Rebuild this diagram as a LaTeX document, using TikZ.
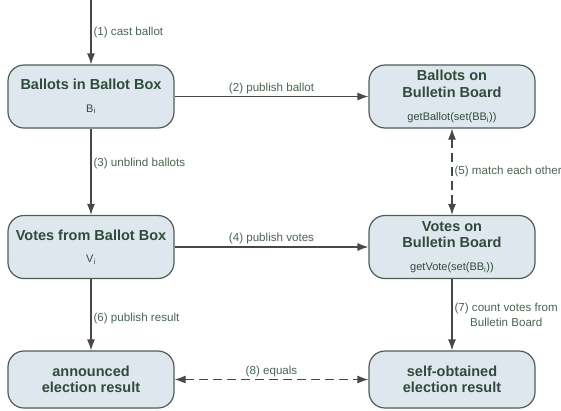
\documentclass[tikz,border=0pt]{standalone}
\usepackage{fontspec}
\setmainfont{Liberation Sans}
\usepackage{tikz}
\usepackage{xcolor}
\usetikzlibrary{positioning, arrows.meta}

\definecolor{boxfill}{HTML}{DFE7EE}
\definecolor{boxline}{HTML}{4F5D55}
\definecolor{titlegreen}{HTML}{2F4B3B}
\definecolor{labelgreen}{HTML}{4A6452}
\definecolor{arrowgray}{HTML}{484848}

\newcommand{\titlefont}{\fontsize{14.5}{16.5}\selectfont\bfseries}
\newcommand{\subfont}{\fontsize{11}{13}\selectfont\mdseries}
\newcommand{\labelfont}{\fontsize{11.6}{15}\selectfont}

\begin{document}
\begin{tikzpicture}[x=1pt, y=-1pt,
    box/.style={draw=boxline, line width=1.2pt, fill=boxfill, rounded corners=16pt,
        minimum width=166pt, minimum height=63pt, align=center, text=titlegreen,
        font=\titlefont, inner sep=0pt},
    lowbox/.style={box, minimum height=57pt},
    flow/.style={draw=arrowgray, line width=1.2pt, -{Latex[length=11pt, width=8pt]}},
    match/.style={flow, {Latex[length=11pt, width=8pt]}-{Latex[length=11pt, width=8pt]}, dash pattern=on 9pt off 5pt},
    lbl/.style={font=\labelfont, text=labelgreen, inner sep=2pt}]
    \useasboundingbox (0,0) rectangle (561,410);

    \coordinate (start) at (91, 0);
    \node[box] (boxballots) at (91, 96.5) {Ballots in Ballot Box\\[6pt]\subfont B\textsubscript{i}};
    \node[box] (bbballots) at (452, 96.5) {Ballots on\\Bulletin Board\\[7pt]\subfont getBallot(set(BB\textsubscript{i}))};
    \node[box] (boxvotes) at (91, 247) {Votes from Ballot Box\\[6pt]\subfont V\textsubscript{i}};
    \node[box] (bbvotes) at (452, 247) {Votes on\\Bulletin Board\\[6pt]\subfont getVote(set(BB\textsubscript{i}))};
    \node[lowbox] (announced) at (91, 379.5) {announced\\election result};
    \node[lowbox] (selfobtained) at (452, 379.5) {self-obtained\\election result};

    \draw[flow] (start) -- node[lbl, right] {(1) cast ballot} (boxballots);
    \draw[flow] (boxballots) -- node[lbl, above] {(2) publish ballot} (bbballots);
    \draw[flow] (boxballots) -- node[lbl, right, pos=0.4] {(3) unblind ballots} (boxvotes);
    \draw[flow] (boxvotes) -- node[lbl, above] {(4) publish votes} (bbvotes);
    \draw[match] (bbballots) -- node[lbl, right] {(5) match each other} (bbvotes);
    \draw[flow] (boxvotes) -- node[lbl, right, pos=0.55] {(6) publish result} (announced);
    \draw[flow] (bbvotes) -- node[lbl, right, align=center, pos=0.5] {(7) count votes from\\Bulletin Board} (selfobtained);
    \draw[match] (announced) -- node[lbl, above] {(8) equals} (selfobtained);
\end{tikzpicture}
\end{document}
